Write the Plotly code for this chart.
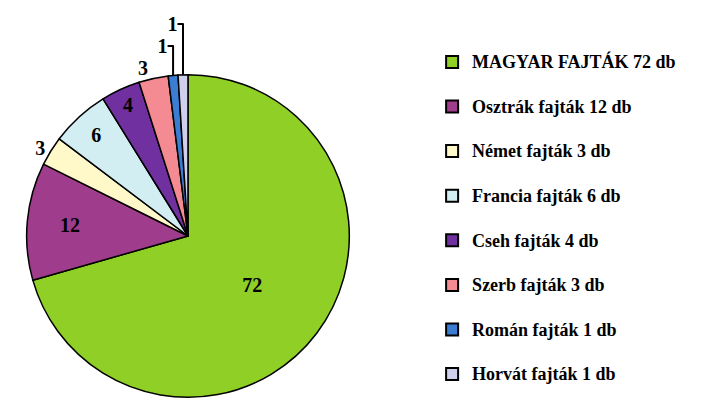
import plotly.graph_objects as go

fajtak = ["MAGYAR FAJTÁK 72 db", "Osztrák fajták 12 db", "Német fajták 3 db",
          "Francia fajták 6 db", "Cseh fajták 4 db", "Szerb fajták 3 db",
          "Román fajták 1 db", "Horvát fajták 1 db"]
darab = [72, 12, 3, 6, 4, 3, 1, 1]
szinek = ["#8FCF26", "#A03C8C", "#FFF8C8", "#D2EEF2",
          "#7030A0", "#F48A92", "#3A7DD2", "#CFCFEE"]
helyzet = ["inside", "inside", "outside", "inside",
           "inside", "outside", "outside", "outside"]

# az ures masodik sor adja a nagyobb sortavolsagot a jelmagyarazatban
cimkek = ["<span style='font-size:18px'><b>" + f + "</b></span><br> " for f in fajtak]

fig = go.Figure(go.Pie(
    labels=cimkek,
    values=darab,
    text=[str(d) for d in darab],
    texttemplate="<b>%{text}</b>",
    textposition=helyzet,
    insidetextorientation="horizontal",
    sort=False,
    direction="clockwise",
    rotation=0,
    marker=dict(colors=szinek, line=dict(color="black", width=1.5)),
    textfont=dict(family="Liberation Serif", size=20, color="black"),
    domain=dict(x=[0.0216, 0.4978], y=[0.0371, 0.854]),
    hoverinfo="label+value",
))

# a bongeszo 8px-es margoja miatt 693x404
fig.update_layout(
    width=693, height=404,
    margin=dict(l=0, r=0, t=0, b=0),
    paper_bgcolor="white",
    font=dict(family="Liberation Serif", color="black"),
    legend=dict(
        x=0.612, y=0.88, xanchor="left", yanchor="top",
        valign="top",
        font=dict(family="Liberation Serif", size=16, color="black"),
        itemsizing="constant",
    ),
)

fig.write_html("out.html")
